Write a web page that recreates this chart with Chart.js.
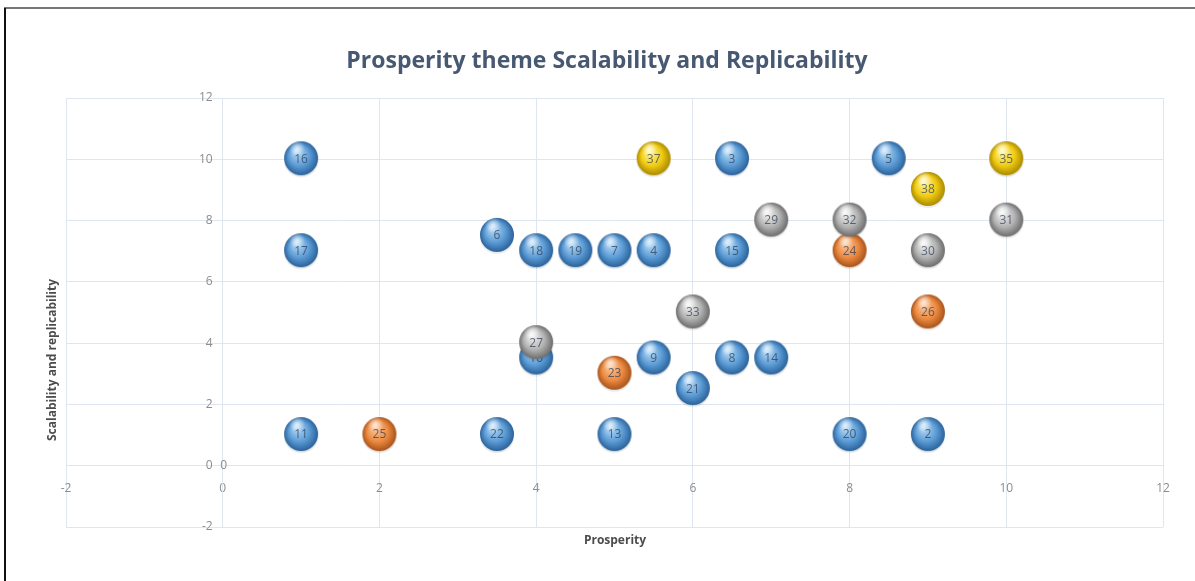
<!DOCTYPE html>
<html>
<head>
<meta charset="utf-8">
<script src="https://cdn.jsdelivr.net/npm/chart.js@4"></script>
<style>
  html, body { margin: 0; padding: 0; background: #fff; }
  #wrap { width: 1195px; height: 581px; }
</style>
</head>
<body>
<div id="wrap"><canvas id="scatter" width="1195" height="581"></canvas></div>
<script>
// Chart data
const blueIds = ['16', '17', '6', '18', '19', '7', '4', '3', '5', '15', '10', '9', '8', '14', '21', '11', '22', '13', '20', '2'];
const blueX   = [1, 1, 3.5, 4, 4.5, 5, 5.5, 6.5, 8.5, 6.5, 4, 5.5, 6.5, 7, 6, 1, 3.5, 5, 8, 9];
const blueY   = [10, 7, 7.5, 7, 7, 7, 7, 10, 10, 7, 3.5, 3.5, 3.5, 3.5, 2.5, 1, 1, 1, 1, 1];

const orangeIds = ['25', '23', '24', '26'];
const orangeX   = [2, 5, 8, 9];
const orangeY   = [1, 3, 7, 5];

const grayIds = ['27', '33', '29', '32', '30', '31'];
const grayX   = [4, 6, 7, 8, 9, 10];
const grayY   = [4, 5, 8, 8, 7, 8];

const yellowIds = ['37', '38', '35'];
const yellowX   = [5.5, 9, 10];
const yellowY   = [10, 9, 10];

const originIds = ['0'];
const originX   = [0];
const originY   = [0];

const xTicks = [-2, 0, 2, 4, 6, 8, 10, 12];
const yTicks = [-2, 0, 2, 4, 6, 8, 10, 12];

// Build a shaded ball as a canvas so it can be used as the point style
function makeBall(light, mid, dark) {
    const r = 17;
    const c = document.createElement('canvas');
    c.width = 40; c.height = 40;
    const g = c.getContext('2d');
    const cx = 20, cy = 19;
    // soft shadow
    g.beginPath();
    g.ellipse(cx, cy + 3, r, r - 1, 0, 0, Math.PI * 2);
    g.fillStyle = 'rgba(0,0,0,0.08)';
    g.fill();
    const grad = g.createRadialGradient(cx - 5, cy - 7, 1, cx, cy, r);
    grad.addColorStop(0, light);
    grad.addColorStop(0.6, mid);
    grad.addColorStop(1, dark);
    g.beginPath();
    g.arc(cx, cy, r, 0, Math.PI * 2);
    g.fillStyle = grad;
    g.fill();
    // small specular highlight
    const hi = g.createRadialGradient(cx - 4, cy - 10, 0, cx - 4, cy - 10, 8);
    hi.addColorStop(0, 'rgba(255,255,255,0.7)');
    hi.addColorStop(1, 'rgba(255,255,255,0)');
    g.fillStyle = hi;
    g.beginPath();
    g.arc(cx, cy, r, 0, Math.PI * 2);
    g.fill();
    return c;
}

const blueBall   = makeBall('#b8dcf7', '#5b9bd5', '#2b629a');
const orangeBall = makeBall('#fcc79c', '#ec8a40', '#a8531b');
const grayBall   = makeBall('#f4f4f4', '#b2b2b2', '#6c6c6c');
const yellowBall = makeBall('#fff69c', '#f0cb12', '#a98a00');

function points(xs, ys) {
    return xs.map((x, i) => ({ x: x, y: ys[i] }));
}

// draws the number on each ball, per dataset so overlaps stay in order
const ballLabels = {
    id: 'ballLabels',
    afterDatasetDraw(chart, args) {
        const ds = chart.data.datasets[args.index];
        const ctx = chart.ctx;
        ctx.save();
        ctx.font = '12px "Open Sans", sans-serif';
        ctx.textAlign = 'center';
        ctx.textBaseline = 'middle';
        ctx.fillStyle = ds.labelColor || 'rgba(40,55,80,0.7)';
        args.meta.data.forEach((pt, i) => {
            ctx.fillText(ds.ids[i], pt.x + (ds.labelDx || 0), pt.y);
        });
        ctx.restore();
    }
};

// y tick labels sit left of the crossing axis, with a small gap
const yTickLabels = {
    id: 'yTickLabels',
    afterDraw(chart) {
        const ctx = chart.ctx;
        const xs = chart.scales.x, ys = chart.scales.y;
        const x0 = xs.getPixelForValue(0);
        ctx.save();
        ctx.font = '12px "Open Sans", sans-serif';
        ctx.fillStyle = '#8c8c8c';
        ctx.textAlign = 'right';
        ctx.textBaseline = 'middle';
        yTicks.forEach(v => ctx.fillText(String(v), x0 - 10, ys.getPixelForValue(v)));
        ctx.restore();
    }
};

// title, axis titles and the frame lines around the picture
const frame = {
    id: 'frame',
    afterDraw(chart) {
        const ctx = chart.ctx;
        ctx.save();
        ctx.fillStyle = '#475872';
        ctx.font = 'bold 23px "Open Sans", sans-serif';
        ctx.textAlign = 'center';
        ctx.textBaseline = 'middle';
        ctx.fillText('Prosperity theme Scalability and Replicability', 607, 61);

        ctx.fillStyle = '#4c4c4c';
        ctx.font = 'bold 12px "Open Sans", sans-serif';
        ctx.fillText('Prosperity', 615, 541);
        ctx.translate(53, 360);
        ctx.rotate(-Math.PI / 2);
        ctx.fillText('Scalability and replicability', 0, 0);
        ctx.restore();

        ctx.save();
        ctx.strokeStyle = '#777';
        ctx.lineWidth = 2;
        ctx.beginPath();
        ctx.moveTo(4, 8); ctx.lineTo(1195, 8);
        ctx.stroke();
        ctx.strokeStyle = '#111';
        ctx.beginPath();
        ctx.moveTo(5, 8); ctx.lineTo(5, 581);
        ctx.stroke();
        ctx.restore();
    }
};

const el = document.getElementById('scatter');
new Chart(el, {
    type: 'scatter',
    data: {
        datasets: [
            { label: 'Blue', ids: blueIds, data: points(blueX, blueY), pointStyle: blueBall, order: 5 },
            { label: 'Orange', ids: orangeIds, data: points(orangeX, orangeY), pointStyle: orangeBall, order: 4 },
            { label: 'Gray', ids: grayIds, data: points(grayX, grayY), pointStyle: grayBall, order: 3 },
            { label: 'Yellow', ids: yellowIds, data: points(yellowX, yellowY), pointStyle: yellowBall, order: 2 },
            { label: 'Origin', ids: originIds, data: points(originX, originY), pointRadius: 0,
              labelColor: '#8c8c8c', labelDx: 1, order: 1 }
        ]
    },
    options: {
        responsive: false,
        devicePixelRatio: 1,
        animation: false,
        layout: { padding: { left: 66, right: 32, top: 98, bottom: 54 } },
        plugins: {
            legend: { display: false },
            title: { display: false },
            tooltip: { enabled: false }
        },
        scales: {
            x: {
                type: 'linear',
                min: -2,
                max: 12,
                position: { y: 0 },
                afterBuildTicks: (s) => { s.ticks = xTicks.map(v => ({ value: v })); },
                grid: { color: '#dfe6ef', drawTicks: false },
                border: { color: '#dfe6ef' },
                ticks: { color: '#8c8c8c', font: { size: 12, family: '"Open Sans", sans-serif' }, padding: 16 }
            },
            y: {
                type: 'linear',
                min: -2,
                max: 12,
                position: { x: 0 },
                afterBuildTicks: (s) => { s.ticks = yTicks.map(v => ({ value: v })); },
                grid: { color: '#dfe6ef', drawTicks: false },
                border: { color: '#dfe6ef' },
                ticks: { display: false }
            }
        }
    },
    plugins: [ballLabels, yTickLabels, frame]
});
</script>
</body>
</html>
